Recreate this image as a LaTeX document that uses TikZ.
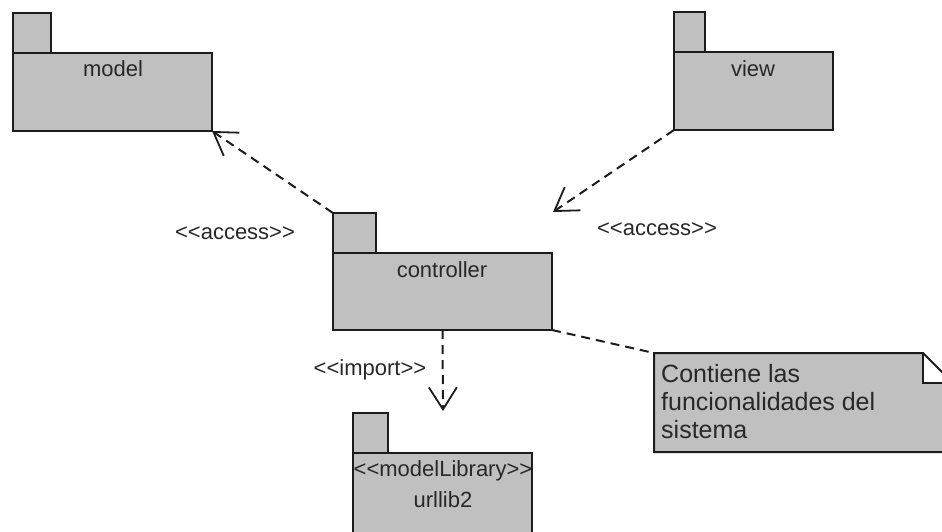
\documentclass[tikz,border=0pt]{standalone}
\usepackage{fontspec}
\setmainfont{Liberation Sans}
\usetikzlibrary{arrows.meta}
\definecolor{pkgfill}{RGB}{192,192,192}
\definecolor{inkc}{RGB}{28,28,28}
\definecolor{txtc}{RGB}{40,40,40}
% guillemet-free stereotype brackets
\newcommand{\stereo}[1]{<{}<#1>{}>}
\tikzset{
  pkgpart/.style={draw=inkc, fill=pkgfill, line width=2pt, anchor=north west,
                  inner sep=0pt, outer sep=0pt},
  lbl/.style={text=txtc, anchor=base, inner sep=0pt,
              font=\fontsize{22}{26}\selectfont},
  notetxt/.style={text=txtc, anchor=base west, inner sep=0pt,
              font=\fontsize{25}{28}\selectfont},
  dep/.style={draw=inkc, line width=2pt, dash pattern=on 9pt off 6pt,
              -{Straight Barb[length=22pt,width=28pt,line width=1.8pt]}},
  link/.style={draw=inkc, line width=2pt, dash pattern=on 9pt off 6pt}
}
\begin{document}
\begin{tikzpicture}[x=1pt,y=-1pt]
\useasboundingbox (0,0) rectangle (942,531);
\clip (0,0) rectangle (942,531);

% package: model
\node[pkgpart, minimum width=38pt, minimum height=40pt] (mtab) at (13,13) {};
\node[pkgpart, minimum width=199pt, minimum height=78pt] (mbody) at (13,53) {};
\node[lbl] (mname) at (113,76) {model};

% package: view
\node[pkgpart, minimum width=31pt, minimum height=40pt] (vtab) at (674,12) {};
\node[pkgpart, minimum width=159pt, minimum height=78pt] (vbody) at (674,52) {};
\node[lbl] (vname) at (753,76) {view};

% package: controller
\node[pkgpart, minimum width=43pt, minimum height=40pt] (ctab) at (333,213) {};
\node[pkgpart, minimum width=219pt, minimum height=77pt] (cbody) at (333,253) {};
\node[lbl] (cname) at (442,277) {controller};

% package: urllib2
\node[pkgpart, minimum width=35pt, minimum height=40pt] (utab) at (353,413) {};
\node[pkgpart, minimum width=179pt, minimum height=110pt] (ubody) at (353,453) {};
\node[lbl] (ustereo) at (443,476) {\stereo{modelLibrary}};
\node[lbl] (uname) at (443,507) {urllib2};

% note with folded corner
\coordinate (nnw) at (654,353);
\coordinate (nfold) at (923,353);
\coordinate (nfoldin) at (923,383);
\coordinate (nfoldout) at (953,383);
\coordinate (nse) at (953,452);
\coordinate (nsw) at (654,452);
\fill[pkgfill] (nnw) -- (nfold) -- (nfoldout) -- (nse) -- (nsw) -- cycle;
\fill[white] (nfold) -- (nfoldin) -- (nfoldout) -- cycle;
\draw[inkc, line width=2pt, line join=miter]
  (nnw) -- (nfold) -- (nfoldout) -- (nse) -- (nsw) -- cycle;
\draw[inkc, line width=2pt] (nfold) -- (nfoldin) -- (nfoldout);
\node[notetxt] (nl1) at (661,382) {Contiene las};
\node[notetxt] (nl2) at (661,410) {funcionalidades del};
\node[notetxt] (nl3) at (661,438) {sistema};

% dependencies
\coordinate (vtip) at (553,212);
\coordinate (itip) at (443,411);
\draw[dep] (ctab.north west) -- (mbody.south east);
\draw[dep] (vbody.south west) -- (vtip);
\draw[dep] (cbody.south) -- (itip);
\draw[link] (cbody.south east) -- (nnw);

% stereotype labels
\node[lbl] (acc1) at (235,239) {\stereo{access}};
\node[lbl] (acc2) at (657,235) {\stereo{access}};
\node[lbl] (imp) at (370,375) {\stereo{import}};
\end{tikzpicture}
\end{document}
